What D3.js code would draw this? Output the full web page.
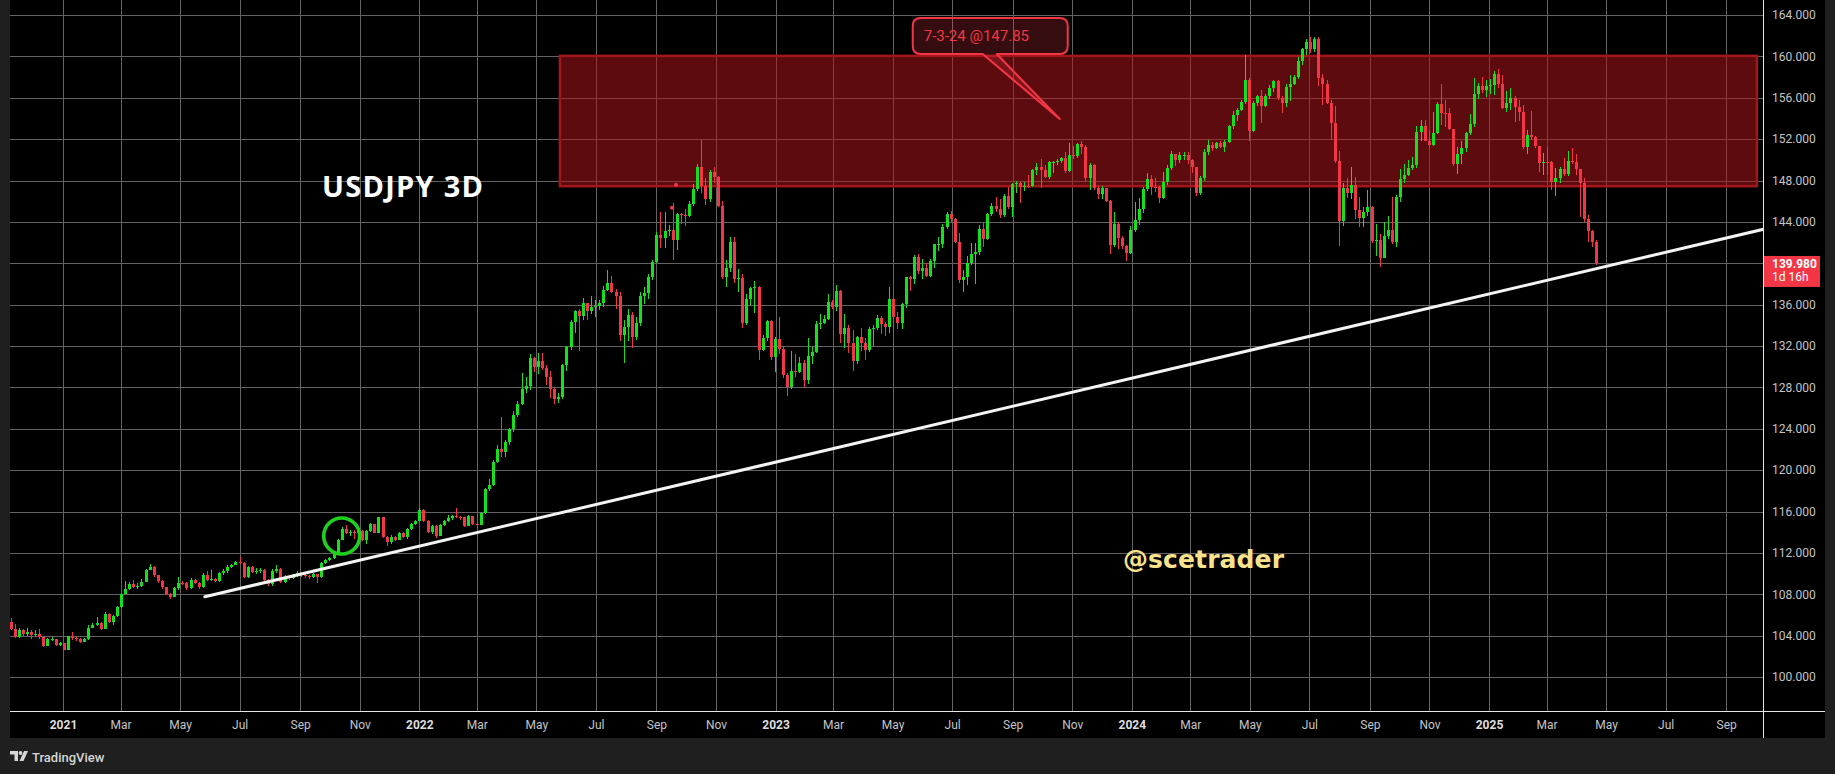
<!DOCTYPE html>
<html><head><meta charset="utf-8">
<script src="https://cdn.jsdelivr.net/npm/d3@7"></script>
<style>html,body{margin:0;padding:0;background:#1f1f1f;overflow:hidden}</style>
</head><body><svg id="c" width="1835" height="774"></svg>
<script>
// ---------- DATA (USDJPY, 3-day bars) ----------
const firstOpen = 105.28;
const closes = [
104.61,103.84,104.54,104.16,104.38,104.06,104.2,103.84,103.0,103.64,
103.66,103.06,103.26,102.64,103.96,103.74,103.64,103.4,103.64,104.77,
105.03,105.2,104.64,106.09,105.35,105.9,106.8,108.0,108.5,108.99,
108.73,108.8,109.21,110.34,110.66,109.83,109.31,108.67,108.02,107.77,
108.57,109.12,109.1,108.57,109.38,109.12,108.67,109.86,109.38,109.5,
109.28,110.02,110.28,110.66,110.83,111.08,111.0,109.7,110.6,110.18,
110.28,110.35,109.38,108.99,110.28,110.44,109.21,109.7,109.54,109.83,
110.02,109.86,109.76,109.67,109.92,109.62,111.0,111.31,111.53,111.96,
113.25,114.31,113.9,114.05,113.9,114.1,113.25,114.1,114.79,113.96,
115.43,113.56,113.02,113.56,113.25,113.96,113.56,114.31,114.79,115.1,
116.14,115.1,114.05,114.6,113.66,114.7,115.1,115.33,115.55,115.5,
115.43,114.63,115.55,114.79,114.7,115.88,118.15,118.56,120.82,122.01,
121.78,122.69,123.94,125.33,126.39,127.81,128.13,130.81,130.0,130.55,
129.9,129.03,127.81,126.85,127.04,130.16,131.93,134.35,135.38,134.9,
136.13,135.41,135.8,135.9,136.13,137.41,138.06,137.25,136.86,133.06,
133.87,135.0,132.9,134.19,136.83,137.09,138.64,140.12,142.73,142.47,
143.12,143.2,142.25,144.73,144.7,144.6,145.7,147.18,149.3,147.47,
146.2,148.8,148.3,145.56,138.7,139.5,142.05,138.5,138.6,134.25,
136.54,137.58,137.67,131.61,132.74,134.42,130.97,132.68,131.71,129.2,
128.07,129.58,129.5,130.38,128.68,131.07,131.42,134.15,134.22,134.64,
136.22,135.73,137.35,133.2,133.74,132.32,130.58,132.84,132.26,131.61,
133.64,133.7,134.68,134.13,133.87,136.51,134.77,134.19,136.06,138.64,
138.48,140.57,139.25,139.54,138.8,140.19,141.83,141.87,143.53,144.76,
144.25,142.08,138.38,138.64,139.99,140.89,141.05,143.31,142.34,144.73,
145.5,145.21,144.66,146.5,145.47,147.66,147.8,147.34,147.47,147.45,
148.98,149.3,149.01,148.3,149.76,149.78,149.88,150.2,148.92,150.46,
150.4,151.53,151.27,148.27,149.47,147.3,146.69,147.24,146.05,141.76,
143.79,142.41,141.67,140.96,143.21,144.18,145.24,147.18,148.14,147.4,
147.38,146.34,147.82,149.18,150.56,149.98,150.46,150.5,149.98,149.33,
146.82,148.27,150.72,151.43,151.11,151.59,151.2,151.69,153.27,154.3,
154.81,155.56,157.71,152.81,155.52,156.17,155.23,156.17,156.91,157.62,
155.94,155.52,157.0,157.33,158.03,159.55,160.71,161.35,160.68,161.68,
157.94,157.3,155.52,153.59,149.88,144.08,147.24,146.76,147.56,145.15,
144.4,144.92,145.4,142.15,142.2,140.54,142.63,143.21,142.08,146.43,
148.14,148.53,149.24,149.5,152.72,153.27,151.85,151.43,152.56,155.39,
154.55,154.52,152.98,149.59,150.56,151.11,152.56,153.46,156.36,157.13,
156.75,157.13,157.2,158.29,157.33,155.04,155.52,155.94,155.14,154.65,
151.27,152.4,152.17,151.33,149.66,149.82,149.76,147.88,148.27,149.11,
148.63,149.88,149.76,149.11,147.79,144.28,143.12,142.08,139.98
];
const highs = [
105.67,105.12,104.7,104.6,104.7,104.5,104.5,104.6,104.0,103.8,
103.85,103.7,103.4,103.3,104.0,104.38,103.9,103.8,103.75,105.0,
105.2,105.77,105.3,106.28,106.2,106.0,106.9,108.1,109.28,109.2,
109.38,109.1,109.5,110.45,110.92,110.7,109.9,109.4,108.7,108.1,
108.7,109.67,109.3,109.2,109.55,109.45,109.2,110.1,110.28,110.3,
109.6,110.15,110.4,110.8,110.95,111.2,111.63,111.1,110.7,110.7,
110.5,110.55,110.4,109.5,110.4,110.83,110.5,109.85,109.8,110.0,
110.2,110.1,110.0,109.9,110.1,110.0,111.1,111.4,111.6,112.1,
113.3,114.53,114.7,114.2,114.2,114.2,114.2,114.2,114.85,114.8,
115.5,115.45,113.6,113.75,113.6,114.0,114.05,114.4,114.9,115.2,
116.31,116.2,115.15,114.7,114.65,114.8,115.2,115.66,115.7,116.31,
115.6,115.5,115.65,115.6,115.0,116.0,118.3,119.11,121.0,122.43,
125.1,122.95,124.1,125.7,126.7,129.36,129.05,131.2,130.9,131.3,
131.3,130.2,129.6,127.9,127.5,130.3,132.0,134.5,135.5,135.6,
136.6,136.2,136.85,136.4,136.4,137.8,139.35,138.8,137.5,137.2,
134.5,135.6,135.3,134.8,137.2,137.7,139.0,140.3,143.0,144.98,
144.98,143.7,145.79,144.9,144.85,145.2,146.0,147.66,149.6,151.9,
148.2,149.0,149.3,148.4,146.0,140.3,142.5,142.5,139.4,139.0,
137.0,137.7,138.3,137.8,133.1,134.5,134.5,132.9,134.77,132.0,
129.4,131.55,131.2,130.9,130.6,132.8,131.9,134.4,135.1,135.0,
137.0,136.4,137.9,137.4,135.1,134.0,133.5,133.0,133.7,132.8,
133.8,134.0,135.0,134.9,134.3,137.74,136.5,135.3,136.2,138.7,
138.8,140.8,140.89,140.4,140.0,140.4,141.9,142.5,143.8,145.0,
145.08,144.4,142.95,139.3,140.7,142.0,141.99,143.7,143.9,144.9,
145.8,146.37,146.2,146.7,147.34,147.8,148.0,147.9,147.9,148.5,
149.1,149.72,150.04,149.5,149.9,149.9,150.1,150.3,150.72,151.65,
151.3,151.6,151.82,151.4,149.7,149.6,147.5,147.5,147.3,146.1,
144.98,144.0,142.6,141.8,143.6,145.95,146.3,147.4,148.75,148.5,
148.2,147.5,148.85,149.5,150.9,150.6,150.8,150.8,150.8,150.1,
149.3,148.4,151.0,151.9,151.7,151.75,151.8,151.9,153.4,154.7,
155.0,155.8,160.13,157.9,155.7,156.3,156.75,156.4,157.2,157.7,
157.7,156.2,157.3,158.2,158.2,159.9,160.8,161.68,161.85,161.9,
161.85,158.3,157.7,155.8,155.2,150.88,147.8,148.2,149.27,148.3,
146.4,145.4,147.08,145.5,143.79,142.8,144.0,144.6,146.43,146.6,
149.11,149.59,150.0,150.3,153.3,153.85,153.85,152.8,154.62,155.6,
157.34,155.8,155.0,153.0,151.2,151.8,152.7,154.43,157.88,157.4,
158.03,157.7,157.8,158.6,158.78,158.2,156.7,156.9,156.2,155.8,
155.3,152.9,154.72,152.3,151.3,150.7,151.27,149.9,149.2,149.3,
150.2,150.88,151.17,150.6,149.1,148.27,144.7,143.2,142.2
];
const lows = [
104.55,103.74,103.8,104.0,103.96,103.7,104.0,103.64,102.93,102.95,
103.45,102.95,103.0,102.6,102.6,103.6,103.5,103.3,103.35,103.6,
104.7,104.95,104.55,104.6,105.2,105.0,105.8,106.7,108.3,108.4,
108.6,108.55,108.7,109.2,110.3,109.7,109.1,108.5,107.9,107.51,
107.7,108.4,108.9,108.4,108.5,109.0,108.55,108.6,109.3,109.3,
109.2,109.2,109.9,110.1,110.5,110.8,110.95,109.6,109.6,110.05,
110.0,110.1,109.3,108.8,108.75,110.1,109.1,109.1,109.4,109.45,
109.7,109.7,109.6,109.5,109.6,109.12,109.55,110.9,111.2,111.4,
111.9,113.2,113.85,113.6,113.34,113.85,113.1,112.86,114.0,113.9,
113.9,113.4,112.66,112.9,113.1,113.2,113.4,113.3,114.2,114.7,
115.05,115.0,113.95,113.85,113.4,113.6,114.6,115.0,115.2,115.4,
115.2,114.5,114.6,114.7,114.4,114.65,115.8,118.0,118.5,120.7,
121.3,121.3,122.45,123.7,125.1,126.3,127.5,127.7,129.5,129.3,
129.7,128.2,127.0,126.36,126.5,126.9,129.6,131.6,133.3,131.5,
134.5,134.5,135.1,134.8,135.5,135.8,137.3,137.1,135.6,132.5,
130.38,132.5,131.78,132.6,133.9,136.1,136.5,138.4,140.0,141.44,
141.5,142.6,140.31,141.3,143.8,143.6,144.5,145.5,147.0,146.8,
145.6,145.9,147.8,145.4,138.45,137.67,139.2,138.06,137.2,133.7,
134.0,136.0,135.2,130.65,131.5,132.5,130.6,129.5,131.2,128.9,
127.16,127.8,129.0,129.4,128.0,128.3,130.3,131.3,133.6,134.1,
134.5,135.6,135.4,132.33,131.78,131.3,129.62,130.3,131.5,130.65,
131.4,132.0,133.5,133.2,132.97,133.3,133.4,133.6,133.6,135.7,
137.3,138.0,139.0,138.5,138.7,138.7,139.5,141.2,141.5,143.3,
144.0,142.0,138.12,137.25,137.9,139.8,137.99,140.8,141.6,142.2,
144.6,145.0,144.4,144.5,145.2,144.44,146.8,145.85,147.0,147.3,
147.4,148.5,147.24,148.2,148.1,148.7,149.5,149.7,148.7,148.8,
150.1,150.2,150.6,148.0,147.08,147.1,146.2,146.2,145.9,140.9,
141.6,141.4,141.4,140.25,140.9,143.0,143.7,144.9,147.0,146.6,
146.9,145.85,146.2,147.6,149.0,149.4,149.7,150.0,149.6,148.7,
146.5,146.6,148.0,150.5,150.9,151.0,151.1,150.8,151.6,153.0,
153.8,154.7,155.4,151.85,152.7,155.2,153.59,155.1,155.9,156.6,
155.8,154.55,155.1,155.7,157.2,157.8,159.2,160.1,160.3,160.4,
157.13,155.3,155.4,151.91,149.66,141.67,143.6,146.3,146.2,144.25,
143.47,143.5,144.6,142.0,140.7,139.61,140.6,142.3,141.9,141.6,
145.9,147.8,148.4,149.0,149.2,151.8,151.8,151.2,151.3,152.5,
153.4,153.2,152.9,149.4,148.63,149.6,150.8,152.4,153.2,155.9,
156.5,156.1,156.4,156.3,156.9,154.9,154.6,154.8,153.65,153.8,
151.0,150.6,151.9,151.1,148.85,148.53,148.5,147.1,146.5,147.8,
148.4,148.4,149.6,148.5,144.5,144.02,142.08,141.6,139.8
];
const priceTicks = [100,104,108,112,116,120,124,128,132,136,140,144,148,152,156,160,164];
const timeTicks = ["2021-01-01","2021-03-01","2021-05-01","2021-07-01","2021-09-01","2021-11-01",
  "2022-01-01","2022-03-01","2022-05-01","2022-07-01","2022-09-01","2022-11-01",
  "2023-01-01","2023-03-01","2023-05-01","2023-07-01","2023-09-01","2023-11-01",
  "2024-01-01","2024-03-01","2024-05-01","2024-07-01","2024-09-01","2024-11-01",
  "2025-01-01","2025-03-01","2025-05-01","2025-07-01","2025-09-01"];
const monthNames = ["Jan","Feb","Mar","Apr","May","Jun","Jul","Aug","Sep","Oct","Nov","Dec"];
// drawings
const zoneBars = [134.4, 427.3];
const zonePrices = [147.45, 160.05];
const trendBars = [47.5, 430];
const trendPrices = [107.76, 143.39];
const circleAt = [81, 113.63];
const markers = [[161.8, 145.37], [162.8, 147.6]];
const calloutTip = [256.7, 153.94];
const calloutText = "7-3-24 @147.85";
const lastPrice = 139.98, countdown = "1d 16h";
const title = "USDJPY 3D", watermark = "@scetrader";

// ---------- DRAW ----------
const svg = d3.select('#c');
const PL = 10, PR = 1763, PT = 0, PB = 711, FR = 1825, FB = 738;
const GREEN = '#14e01b', RED = '#f23645';
const fontUI = "Roboto, 'Liberation Sans', sans-serif";

svg.append('rect').attr('x',0).attr('y',0).attr('width',1835).attr('height',774).attr('fill','#1f1f1f');
svg.append('rect').attr('x',PL).attr('y',PT).attr('width',FR-PL).attr('height',FB-PT).attr('fill','#000');

const x = d3.scaleLinear().domain([0, closes.length-1]).range([10.7, 1596.3]);
const t = d3.scaleTime().domain([new Date(2021,0,1), new Date(2025,0,1)]).range([63,1489]);
const y = d3.scaleLinear().domain([100,164]).range([677,15]);
const tickDates = timeTicks.map(s => { const [a,b,c] = s.split('-').map(Number); return new Date(a,b-1,c); });

const defs = svg.append('defs');
defs.append('clipPath').attr('id','plot').append('rect').attr('x',PL).attr('y',PT).attr('width',PR-PL).attr('height',PB-PT);

// grid
const gridColor = '#636363';
const gy = svg.append('g').attr('transform',`translate(${PL},0)`)
  .call(d3.axisRight(y).tickValues(priceTicks).tickSize(PR-PL).tickFormat(''));
gy.select('.domain').remove();
gy.selectAll('line').attr('stroke',gridColor).attr('shape-rendering','crispEdges');
const gx = svg.append('g').attr('transform',`translate(0,${PB})`)
  .call(d3.axisTop(t).tickValues(tickDates).tickSize(PB-PT).tickFormat(''));
gx.select('.domain').remove();
gx.selectAll('line').attr('stroke',gridColor).attr('shape-rendering','crispEdges');

const plot = svg.append('g').attr('clip-path','url(#plot)');

// zone
plot.append('rect')
  .attr('x', x(zoneBars[0])).attr('width', x(zoneBars[1]) - x(zoneBars[0]))
  .attr('y', y(zonePrices[1])).attr('height', y(zonePrices[0]) - y(zonePrices[1]))
  .attr('fill','rgba(178,22,28,0.52)').attr('stroke','#a3161c').attr('stroke-width',2.5);

// candles
const data = closes.map((c,i) => {
  const o = i === 0 ? firstOpen : closes[i-1];
  return {i, o, c, h: Math.max(highs[i], o, c), l: Math.min(lows[i], o, c)};
});
const cg = plot.append('g').attr('shape-rendering','crispEdges');
cg.selectAll('line.w').data(data).join('line')
  .attr('x1', d => Math.round(x(d.i)) + 0.5).attr('x2', d => Math.round(x(d.i)) + 0.5)
  .attr('y1', d => y(d.h)).attr('y2', d => y(d.l))
  .attr('stroke', d => d.c >= d.o ? GREEN : RED).attr('stroke-width',1);
cg.selectAll('rect.b').data(data).join('rect')
  .attr('x', d => Math.round(x(d.i)) - 1).attr('width', 3)
  .attr('y', d => y(Math.max(d.o,d.c)))
  .attr('height', d => Math.max(1, Math.abs(y(d.o) - y(d.c))))
  .attr('fill', d => d.c >= d.o ? GREEN : RED);

// markers
plot.selectAll('circle.m').data(markers).join('circle')
  .attr('cx', d => x(d[0])).attr('cy', d => y(d[1])).attr('r', 2).attr('fill', RED);

// trend line
plot.append('line')
  .attr('x1', x(trendBars[0])).attr('y1', y(trendPrices[0]))
  .attr('x2', x(trendBars[1])).attr('y2', y(trendPrices[1]))
  .attr('stroke','#f4f4f4').attr('stroke-width',3).attr('stroke-linecap','round');

// circle
plot.append('circle').attr('cx', x(circleAt[0])).attr('cy', y(circleAt[1])).attr('r', 18)
  .attr('fill','none').attr('stroke','#1fd01f').attr('stroke-width',3.6);

// callout
const tx = x(calloutTip[0]), ty = y(calloutTip[1]);
const bx0 = tx - 147, bx1 = tx + 8, by0 = ty - 101, by1 = ty - 65, r = 8;
const p0 = tx - 77, p1 = tx - 63;
const cp = `M${bx0+r},${by0} H${bx1-r} Q${bx1},${by0} ${bx1},${by0+r} V${by1-r} Q${bx1},${by1} ${bx1-r},${by1} H${p1} L${tx},${ty} L${p0},${by1} H${bx0+r} Q${bx0},${by1} ${bx0},${by1-r} V${by0+r} Q${bx0},${by0} ${bx0+r},${by0} Z`;
svg.append('path').attr('d', cp).attr('fill','rgba(242,54,69,0.22)').attr('stroke',RED).attr('stroke-width',2).attr('stroke-linejoin','round');
svg.append('text').attr('x', bx0 + 11).attr('y', by0 + 23).text(calloutText)
  .attr('fill', RED).attr('font-family', fontUI).attr('font-size', 15);

// title & watermark
svg.append('text').attr('x', 322).attr('y', 197).text(title)
  .attr('fill','#ffffff').attr('font-family',"'Open Sans', 'DejaVu Sans', sans-serif").attr('font-weight',700).attr('font-size',29)
  .attr('textLength',161).attr('lengthAdjust','spacing');
svg.append('text').attr('x', 1123).attr('y', 568).text(watermark)
  .attr('fill','#f8e38c').attr('font-family',"'DejaVu Sans', sans-serif").attr('font-weight','bold').attr('font-size',25)
  .attr('textLength',161).attr('lengthAdjust','spacing');

// axes borders
svg.append('line').attr('x1',PL).attr('x2',FR).attr('y1',PB+0.5).attr('y2',PB+0.5).attr('stroke','#e6e6e6').attr('stroke-width',1);
svg.append('line').attr('x1',PR+0.5).attr('x2',PR+0.5).attr('y1',PT).attr('y2',FB).attr('stroke','#e6e6e6').attr('stroke-width',1);

// price axis
const ay = svg.append('g').attr('transform',`translate(${PR},0)`)
  .call(d3.axisRight(y).tickValues(priceTicks).tickSize(0).tickPadding(9).tickFormat(d => d.toFixed(3)));
ay.select('.domain').remove();
ay.selectAll('text').attr('fill','#c4c4c4').attr('font-family',fontUI).attr('font-size',12);

// time axis
const ax = svg.append('g').attr('transform',`translate(0,${PB})`)
  .call(d3.axisBottom(t).tickValues(tickDates).tickSize(0).tickPadding(9)
    .tickFormat(d => d.getMonth() === 0 ? String(d.getFullYear()) : monthNames[d.getMonth()]));
ax.select('.domain').remove();
ax.selectAll('text').attr('fill', d => d.getMonth() === 0 ? '#dedede' : '#c4c4c4')
  .attr('font-weight', d => d.getMonth() === 0 ? 'bold' : 'normal')
  .attr('font-family',fontUI).attr('font-size',12);

// last price tag
const lp = y(lastPrice);
svg.append('rect').attr('x', PR+1).attr('y', lp - 7.5).attr('width', 56).attr('height', 31).attr('fill', RED);
svg.append('text').attr('x', PR+9).attr('y', lp + 1.5).attr('dominant-baseline','middle').text(lastPrice.toFixed(3))
  .attr('fill','#fff').attr('font-family',fontUI).attr('font-size',12).attr('font-weight','bold');
svg.append('text').attr('x', PR+9).attr('y', lp + 14.5).attr('dominant-baseline','middle').text(countdown)
  .attr('fill','#fff').attr('font-family',fontUI).attr('font-size',12);

// TradingView logo
const lg = svg.append('g').attr('fill','#d6d6d6');
lg.append('path').attr('d','M10,751 H18 V761 H14.5 V754.5 H10 Z');
lg.append('circle').attr('cx',20.5).attr('cy',753).attr('r',1.9);
lg.append('path').attr('d','M24,751 H28 L23.5,761 H19.5 Z');
svg.append('text').attr('x', 32).attr('y', 761.5).text('TradingView')
  .attr('fill','#d6d6d6').attr('font-family',fontUI).attr('font-size',13).attr('font-weight',500);
</script></body></html>
